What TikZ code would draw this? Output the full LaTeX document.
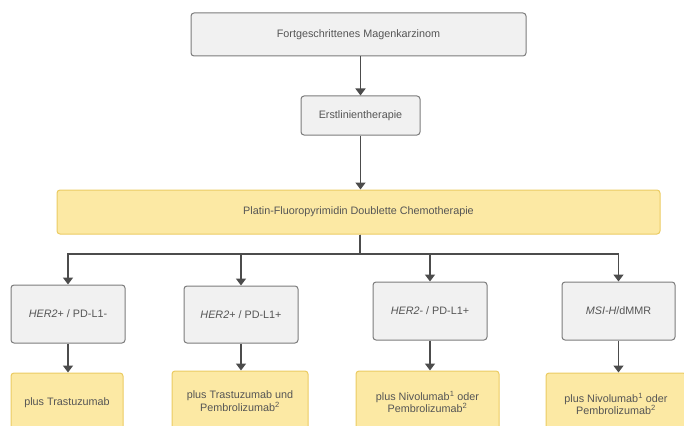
\documentclass[tikz,border=0pt]{standalone}
\usepackage{fontspec}
\setmainfont{Liberation Sans}
\usepackage{xcolor}
\usepackage{tikz}
\usetikzlibrary{arrows.meta,positioning}
\definecolor{mkgray}{HTML}{F1F1F1}
\definecolor{mkline}{HTML}{7C7C7C}
\definecolor{mkyellow}{HTML}{FCE9A4}
\definecolor{mkgold}{HTML}{EBCB62}
\definecolor{mktext}{HTML}{555555}
\definecolor{mkarrow}{HTML}{4C4C4C}

\begin{document}
\begin{tikzpicture}[
    x=1pt, y=-1pt,
    graybox/.style={rectangle, draw=mkline, fill=mkgray, line width=1pt, rounded corners=3pt, font=\fontsize{10.8}{12.5}\selectfont, text=mktext, align=center},
    goldbox/.style={rectangle, draw=mkgold, fill=mkyellow, line width=1pt, rounded corners=3pt, font=\fontsize{10.8}{12.5}\selectfont, text=mktext, align=center},
    arr/.style={draw=mkarrow, line width=1.5pt, -{Triangle[width=10pt,length=7pt]}}
]
    \useasboundingbox (0,0) rectangle (684,425);
    \clip (0,0) rectangle (684,425);

    % Diagnose und Erstlinie
    \node[graybox, minimum width=335pt, minimum height=43pt] (diag) at (358.5,34.5) {Fortgeschrittenes Magenkarzinom};
    \node[graybox, minimum width=119pt, minimum height=39pt] (erst) at (360.5,115.5) {Erstlinientherapie};
    \node[goldbox, minimum width=603pt, minimum height=44pt] (chemo) at (358.5,212) {Platin-Fluoropyrimidin Doublette Chemotherapie};

    % Subgruppen
    \node[graybox, minimum width=114pt, minimum height=58pt] (hpn) at (68,314) {\textit{HER2}+ / PD-L1-};
    \node[graybox, minimum width=114pt, minimum height=57pt] (hpp) at (241,314.5) {\textit{HER2}+ / PD-L1+};
    \node[graybox, minimum width=114pt, minimum height=58pt] (hnp) at (430,311) {\textit{HER2}- / PD-L1+};
    \node[graybox, minimum width=113pt, minimum height=58pt] (msi) at (618.5,311) {\textit{MSI-H}/dMMR};

    % Therapien
    \node[goldbox, minimum width=112pt, minimum height=60pt] (tras) at (67,403) {plus Trastuzumab};
    \node[goldbox, minimum width=136pt, minimum height=60pt] (trpe) at (240,401) {plus Trastuzumab und\\Pembrolizumab\textsuperscript{2}};
    \node[goldbox, minimum width=143pt, minimum height=62pt] (nipe) at (427.5,402) {plus Nivolumab\textsuperscript{1} oder\\Pembrolizumab\textsuperscript{2}};
    \node[goldbox, minimum width=140pt, minimum height=62pt] (nipm) at (616,404) {plus Nivolumab\textsuperscript{1} oder\\Pembrolizumab\textsuperscript{2}};

    % Pfeile
    \coordinate (bus) at (360,254);
    \draw[arr] (erst.north |- diag.south) -- (erst.north);
    \draw[arr] (erst.south) -- (erst.south |- chemo.north);
    \foreach \n in {hpn,hpp,hnp,msi}
        \draw[arr] (bus |- chemo.south) -- (bus) -| (\n.north);
    \draw[arr] (hpn.south) -- (hpn.south |- tras.north);
    \draw[arr] (hpp.south) -- (hpp.south |- trpe.north);
    \draw[arr] (hnp.south) -- (hnp.south |- nipe.north);
    \draw[arr] (msi.south) -- (msi.south |- nipm.north);

\end{tikzpicture}
\end{document}
